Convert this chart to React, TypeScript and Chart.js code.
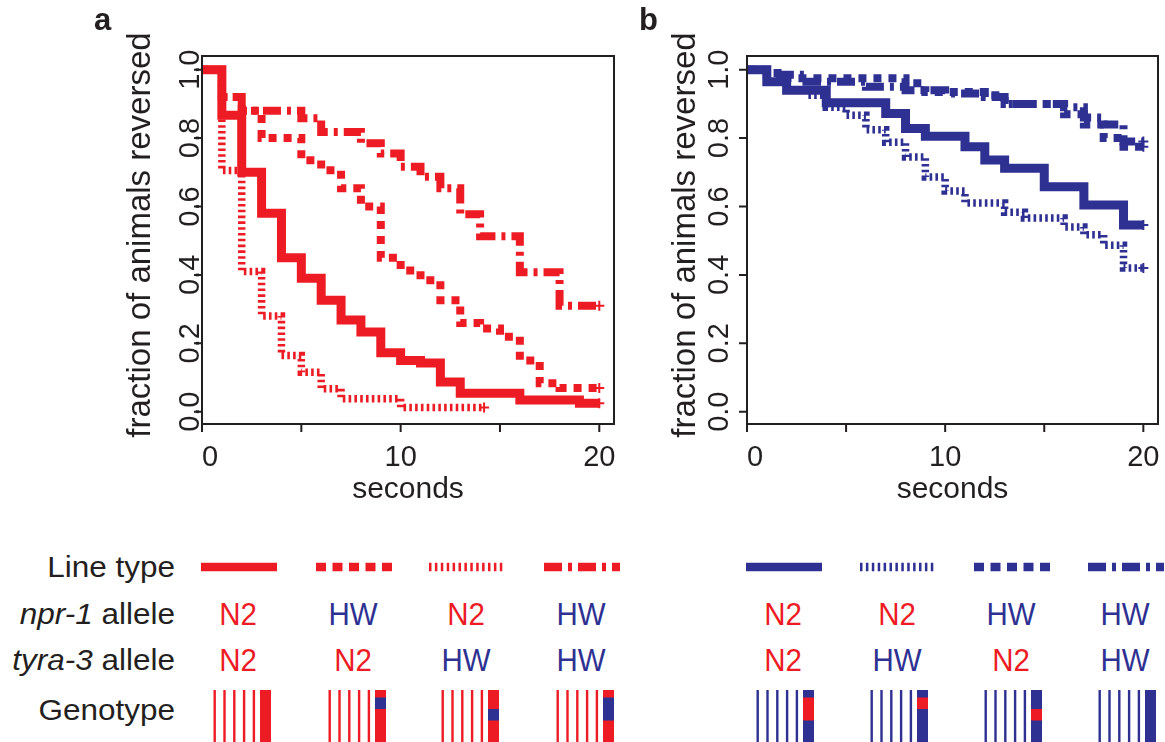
import React, { useEffect, useRef } from 'react';
import { Chart, registerables } from 'chart.js';
Chart.register(...registerables);

const RED = '#ED1C24';
const BLUE = '#2E3192';
const INK = '#231F20';
const FONT = '"Liberation Sans", Arial, Helvetica, sans-serif';

// ---------- axis ticks ----------
const xTicks = [0, 5, 10, 15, 20];
const xTickLabels = [0, 10, 20];
const yTicks = [0, 0.2, 0.4, 0.6, 0.8, 1.0];
const yTickLabels = ['0.0', '0.2', '0.4', '0.6', '0.8', '1.0'];

// ---------- panel a (N2 background, red) ----------
const aSolidT = [0, 1, 2, 3, 4, 5, 6, 7, 8, 9, 10, 11, 12, 13, 16, 19, 20];
const aSolidF = [1.0, 0.867, 0.70, 0.58, 0.45, 0.39, 0.326, 0.268, 0.233, 0.172, 0.15, 0.142, 0.087, 0.054, 0.034, 0.025, 0.025];
const aDashT = [0, 1, 2, 3, 5, 6, 7, 8, 9, 10, 11, 12, 13, 14, 15, 16, 17, 18, 20];
const aDashF = [1.0, 0.92, 0.88, 0.80, 0.735, 0.706, 0.653, 0.60, 0.45, 0.413, 0.384, 0.326, 0.259, 0.243, 0.219, 0.15, 0.083, 0.069, 0.069];
const aDotT = [0, 1, 2, 3, 4, 5, 6, 7, 10, 14.2];
const aDotF = [1.0, 0.705, 0.41, 0.28, 0.164, 0.115, 0.067, 0.038, 0.012, 0.012];
const aDashDotT = [0, 1, 2, 5, 6, 8, 9, 10, 11, 12, 13, 14, 16, 18, 20];
const aDashDotF = [1.0, 0.92, 0.88, 0.858, 0.818, 0.785, 0.755, 0.716, 0.687, 0.653, 0.577, 0.513, 0.408, 0.31, 0.31];

// ---------- panel b (HW background, blue) ----------
const bSolidT = [0, 1, 2, 4, 7, 8, 9, 11, 12, 13, 15, 17, 19, 20];
const bSolidF = [1.0, 0.965, 0.94, 0.903, 0.872, 0.828, 0.805, 0.775, 0.736, 0.712, 0.658, 0.604, 0.546, 0.546];
const bDotT = [0, 1, 2, 3, 4, 5, 6, 7, 8, 9, 10, 11, 13, 14, 16, 17, 18, 19, 20];
const bDotF = [1.0, 0.965, 0.94, 0.925, 0.89, 0.867, 0.824, 0.788, 0.745, 0.686, 0.645, 0.61, 0.583, 0.566, 0.54, 0.517, 0.487, 0.42, 0.42];
const bDashT = [0, 1, 2, 8, 9, 12, 13, 16, 17, 18, 19, 20];
const bDashF = [1.0, 0.99, 0.975, 0.96, 0.935, 0.925, 0.90, 0.87, 0.84, 0.80, 0.775, 0.775];
const bDashDotT = [0, 1, 3, 6, 8, 10, 12, 13, 16, 17, 18, 19, 20];
const bDashDotF = [1.0, 0.985, 0.965, 0.95, 0.94, 0.93, 0.92, 0.90, 0.89, 0.86, 0.84, 0.79, 0.79];

// ---------- table ----------
const aNpr1 = ['N2', 'HW', 'N2', 'HW'];
const aTyra3 = ['N2', 'N2', 'HW', 'HW'];
const bNpr1 = ['N2', 'N2', 'HW', 'HW'];
const bTyra3 = ['N2', 'HW', 'N2', 'HW'];

// line styles (plot)
const SOLID: number[] = [];
const DASHED = [8, 7];
const DOTTED = [2.6, 3.2];
const DASHDOT = [18, 6, 4, 6];
// line styles (legend swatches)
const SW_DASHED = [10, 6.5];
const SW_DOTTED = [2.5, 3.4];
const aStyles = [SOLID, SW_DASHED, SW_DOTTED, DASHDOT];
const bStyles = [SOLID, SW_DOTTED, SW_DASHED, DASHDOT];

const aCols = [238, 353, 466, 581];
const bCols = [783, 897, 1011, 1125];

function series(T: number[], F: number[], color: string, dash: number[], width: number) {
  return {
    data: T.map((t, i) => ({ x: t, y: F[i] })),
    borderColor: color,
    backgroundColor: color,
    borderWidth: width,
    borderDash: dash,
    borderCapStyle: 'butt',
    borderJoinStyle: 'miter',
    stepped: 'before',
    fill: false,
    pointRadius: T.map((_, i) => (i === T.length - 1 ? 5 : 0)),
    pointStyle: 'cross',
    pointBorderWidth: 2,
    pointBorderColor: color,
    pointHitRadius: 0,
  };
}

const rAxes = {
  id: 'rAxes',
  afterDraw(chart: any, _args: any, opts: any) {
    const { ctx, chartArea: ca, scales } = chart;
    const x = scales.x, y = scales.y;
    ctx.save();
    ctx.strokeStyle = INK;
    ctx.fillStyle = INK;
    ctx.lineWidth = 2;
    ctx.strokeRect(ca.left, ca.top, ca.right - ca.left, ca.bottom - ca.top);
    ctx.beginPath();
    xTicks.forEach((v) => {
      const px = x.getPixelForValue(v);
      ctx.moveTo(px, ca.bottom);
      ctx.lineTo(px, ca.bottom + 8);
    });
    yTicks.forEach((v) => {
      const py = y.getPixelForValue(v);
      ctx.moveTo(ca.left - 8, py);
      ctx.lineTo(ca.left, py);
    });
    ctx.stroke();
    ctx.font = `29px ${FONT}`;
    ctx.textAlign = 'center';
    ctx.textBaseline = 'alphabetic';
    xTickLabels.forEach((v) => {
      const px = x.getPixelForValue(v) + (v === 0 ? 8 : 0);
      ctx.fillText(String(v), px, ca.bottom + 42);
    });
    ctx.font = `30px ${FONT}`;
    ctx.fillText('seconds', (ca.left + ca.right) / 2, ca.bottom + 74);
    // y tick labels (rotated)
    ctx.font = `29px ${FONT}`;
    yTicks.forEach((v, i) => {
      const py = y.getPixelForValue(v);
      ctx.save();
      ctx.translate(ca.left - opts.yLabelGap, py);
      ctx.rotate(-Math.PI / 2);
      ctx.fillText(yTickLabels[i], 0, 0);
      ctx.restore();
    });
    ctx.save();
    ctx.font = `33px ${FONT}`;
    ctx.translate(ca.left - 52, (ca.top + ca.bottom) / 2 - 5);
    ctx.rotate(-Math.PI / 2);
    ctx.fillText('fraction of animals reversed', 0, 0);
    ctx.restore();
    // panel letter
    ctx.font = `bold 31px ${FONT}`;
    ctx.textAlign = 'left';
    ctx.fillText(opts.letter, ca.left - 108, 30);
    ctx.restore();
  },
};

function Panel(props: { left: number; width: number; datasets: any[]; letter: string; yLabelGap: number; padLeft: number; padRight: number }) {
  const ref = useRef<HTMLCanvasElement>(null);
  useEffect(() => {
    const chart = new Chart(ref.current as HTMLCanvasElement, {
      type: 'line',
      data: { datasets: props.datasets },
      options: {
        animation: false,
        responsive: false,
        maintainAspectRatio: false,
        events: [],
        layout: { padding: { left: props.padLeft, right: props.padRight, top: 56, bottom: 96 } },
        plugins: {
          legend: { display: false },
          tooltip: { enabled: false },
          rAxes: { letter: props.letter, yLabelGap: props.yLabelGap },
        } as any,
        scales: {
          x: { type: 'linear', min: 0, max: 20.74, display: false },
          y: { type: 'linear', min: -0.036, max: 1.04, display: false },
        },
      },
      plugins: [rAxes],
    } as any);
    return () => chart.destroy();
  }, []);
  return (
    <canvas
      ref={ref}
      width={props.width}
      height={520}
      style={{ position: 'absolute', left: props.left, top: 0, width: props.width, height: 520 }}
    />
  );
}

function Swatch(props: { cx: number; color: string; dash: number[] }) {
  return (
    <svg width={78} height={14} style={{ position: 'absolute', left: props.cx - 37, top: 560 }}>
      <line x1={0} y1={7} x2={76} y2={7} stroke={props.color} strokeWidth={8.5}
        strokeDasharray={props.dash.length ? props.dash.join(' ') : undefined} />
    </svg>
  );
}

function Glyph(props: { cx: number; bg: string; other: string; upper: boolean; lower: boolean }) {
  const thin = [1.5, 11.3, 21.1, 30.9, 40.7];
  return (
    <svg width={60} height={54} style={{ position: 'absolute', left: props.cx - 28, top: 690 }}>
      {thin.map((t, i) => (
        <rect key={i} x={t} y={0} width={2.4} height={54} fill={props.bg} />
      ))}
      <rect x={48} y={0} width={11} height={54} fill={props.bg} />
      {props.upper && <rect x={48} y={7.5} width={11} height={11.5} fill={props.other} />}
      {props.lower && <rect x={48} y={19} width={11} height={11.5} fill={props.other} />}
    </svg>
  );
}

function Val(props: { cx: number; cy: number; text: string }) {
  return (
    <div
      style={{
        position: 'absolute', left: props.cx - 50, top: props.cy - 20, width: 100, height: 40,
        lineHeight: '40px', textAlign: 'center', fontSize: 29.5,
        color: props.text === 'N2' ? RED : BLUE, transform: 'scaleY(1.07)',
      }}
    >
      {props.text}
    </div>
  );
}

function RowLabel(props: { cy: number; children: any }) {
  return (
    <div
      style={{
        position: 'absolute', left: 0, top: props.cy - 20, width: 175, height: 40,
        lineHeight: '40px', textAlign: 'right', fontSize: 31.5, color: INK, transform: 'scaleY(0.94)',
        whiteSpace: 'nowrap',
      }}
    >
      {props.children}
    </div>
  );
}

export default function App() {
  const aSets = [
    series(aSolidT, aSolidF, RED, SOLID, 9),
    series(aDashT, aDashF, RED, DASHED, 8),
    series(aDotT, aDotF, RED, DOTTED, 7.5),
    series(aDashDotT, aDashDotF, RED, DASHDOT, 8),
  ];
  const bSets = [
    series(bSolidT, bSolidF, BLUE, SOLID, 9),
    series(bDotT, bDotF, BLUE, DOTTED, 7.5),
    series(bDashT, bDashF, BLUE, DASHED, 8),
    series(bDashDotT, bDashDotF, BLUE, DASHDOT, 8),
  ];
  return (
    <div style={{ position: 'fixed', left: 0, top: 0, width: 1165, height: 742, background: '#fff', overflow: 'hidden', fontFamily: FONT }}>
      <Panel left={80} width={560} datasets={aSets} letter="a" yLabelGap={3} padLeft={122} padRight={26} />
      <Panel left={625} width={540} datasets={bSets} letter="b" yLabelGap={19} padLeft={122} padRight={6} />

      <RowLabel cy={567}>Line type</RowLabel>
      <RowLabel cy={614}><i>npr-1</i> allele</RowLabel>
      <RowLabel cy={660}><i>tyra-3</i> allele</RowLabel>
      <RowLabel cy={710}>Genotype</RowLabel>

      {aCols.map((c, i) => <Swatch key={'as' + i} cx={c} color={RED} dash={aStyles[i]} />)}
      {bCols.map((c, i) => <Swatch key={'bs' + i} cx={c} color={BLUE} dash={bStyles[i]} />)}
      {aCols.map((c, i) => <Val key={'an' + i} cx={c} cy={614} text={aNpr1[i]} />)}
      {aCols.map((c, i) => <Val key={'at' + i} cx={c} cy={660} text={aTyra3[i]} />)}
      {bCols.map((c, i) => <Val key={'bn' + i} cx={c} cy={614} text={bNpr1[i]} />)}
      {bCols.map((c, i) => <Val key={'bt' + i} cx={c} cy={660} text={bTyra3[i]} />)}
      {aCols.map((c, i) => (
        <Glyph key={'ag' + i} cx={c + 2} bg={RED} other={BLUE} upper={aNpr1[i] === 'HW'} lower={aTyra3[i] === 'HW'} />
      ))}
      {bCols.map((c, i) => (
        <Glyph key={'bg' + i} cx={c} bg={BLUE} other={RED} upper={bNpr1[i] === 'N2'} lower={bTyra3[i] === 'N2'} />
      ))}
    </div>
  );
}
